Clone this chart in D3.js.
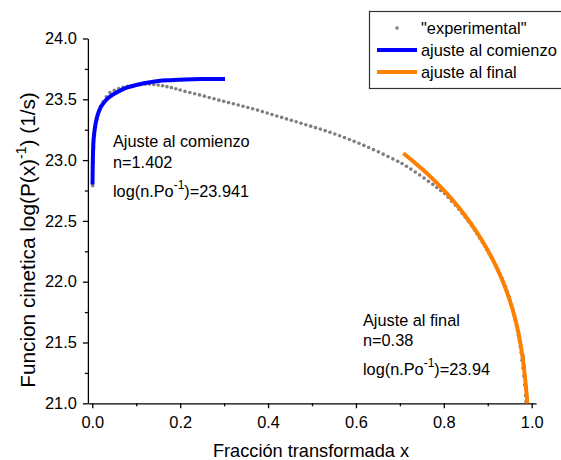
<!DOCTYPE html>
<html>
<head>
<meta charset="utf-8">
<script src="https://cdn.jsdelivr.net/npm/d3@7"></script>
<style>
	body{margin:0;background:#fff;}
	svg text{font-family:"Liberation Sans", Arial, sans-serif;fill:#000;}
</style>
</head>
<body>
<div id="chart"></div>
<script>
// experimental points [x, log(P(x)^-1)]
var expData = [
	[0.001,22.79],[0.002,22.98],[0.003,23.10],[0.005,23.20],[0.007,23.27],[0.010,23.33],
	[0.014,23.39],[0.019,23.44],[0.025,23.48],[0.032,23.52],[0.040,23.555],[0.050,23.575],
	[0.060,23.588],[0.070,23.598],[0.080,23.606],[0.090,23.612],[0.100,23.617],[0.110,23.621],
	[0.120,23.624],[0.130,23.625],[0.140,23.622],[0.150,23.617],[0.160,23.611],[0.170,23.604],
	[0.180,23.596],[0.190,23.587],[0.200,23.576],[0.211,23.565],[0.222,23.556],[0.233,23.546],
	[0.244,23.536],[0.255,23.526],[0.266,23.515],[0.277,23.504],[0.288,23.493],[0.299,23.483],
	[0.310,23.473],[0.321,23.463],[0.332,23.453],[0.343,23.443],[0.354,23.433],[0.365,23.422],
	[0.376,23.411],[0.387,23.399],[0.398,23.387],[0.409,23.375],[0.420,23.363],[0.431,23.351],
	[0.442,23.339],[0.453,23.327],[0.464,23.315],[0.475,23.303],[0.486,23.291],[0.497,23.279],
	[0.508,23.267],[0.519,23.255],[0.530,23.242],[0.541,23.229],[0.552,23.215],[0.563,23.200],
	[0.574,23.185],[0.585,23.170],[0.596,23.154],[0.607,23.138],[0.618,23.121],[0.629,23.104],
	[0.640,23.086],[0.651,23.068],[0.662,23.049],[0.673,23.030],[0.684,23.010],[0.695,22.990],
	[0.705,22.972],[0.715,22.950],[0.725,22.926],[0.735,22.902],[0.745,22.877],[0.755,22.852],
	[0.765,22.826],[0.775,22.800],[0.784,22.775],[0.793,22.750],[0.802,22.725],[0.810,22.695],
	[0.818,22.662],[0.826,22.630],[0.834,22.597],[0.842,22.561],[0.849,22.530],[0.856,22.496],
	[0.863,22.461],[0.870,22.425],[0.876,22.392],[0.882,22.358],[0.888,22.322],[0.893,22.293],
	[0.898,22.262],[0.903,22.232],[0.908,22.200],[0.913,22.166],[0.918,22.133],[0.923,22.098],
	[0.928,22.062],[0.932,22.030],[0.936,21.998],[0.940,21.962],[0.944,21.922],[0.948,21.880],
	[0.951,21.845],[0.954,21.810],[0.957,21.772],[0.960,21.730],[0.963,21.684],[0.966,21.634],
	[0.968,21.598],[0.970,21.560],[0.972,21.515],[0.974,21.468],[0.976,21.415],[0.978,21.355],
	[0.980,21.290],[0.982,21.225],[0.984,21.150],[0.986,21.065],[0.987,21.015]
];

// fit at the beginning (blue)
var fitStart = [
	[0.0005,22.80],[0.001,22.95],[0.0018,23.08],[0.003,23.17],[0.005,23.24],[0.008,23.31],
	[0.013,23.38],[0.020,23.44],[0.028,23.48],[0.036,23.51],[0.050,23.545],[0.074,23.59],
	[0.100,23.618],[0.135,23.643],[0.170,23.656],[0.211,23.663],[0.250,23.666],[0.302,23.666]
];

// fit at the end (orange)
var fitEnd = [
	[0.708,23.056],[0.730,22.990],[0.750,22.928],[0.770,22.862],[0.790,22.790],[0.810,22.712],
	[0.830,22.628],[0.850,22.536],[0.870,22.434],[0.890,22.320],[0.905,22.225],[0.920,22.118],
	[0.935,21.995],[0.945,21.900],[0.955,21.790],[0.963,21.685],[0.970,21.575],[0.976,21.455],
	[0.981,21.330],[0.985,21.200],[0.988,21.090],[0.990,21.000]
];

// short black segment near x=1
var blackSeg = [[0.981,21.41],[0.986,21.22],[0.992,21.00]];

var xTicks = [0, 0.2, 0.4, 0.6, 0.8, 1.0];
var xMinor = [0.1, 0.3, 0.5, 0.7, 0.9];
var yTicks = [21.0, 21.5, 22.0, 22.5, 23.0, 23.5, 24.0];
var yMinor = [21.25, 21.75, 22.25, 22.75, 23.25, 23.75];

var legendItems = ['"experimental"', 'ajuste al comienzo', 'ajuste al final'];

var W = 561, H = 460;
var svg = d3.select('#chart').append('svg')
	.attr('width', W).attr('height', H);

var x = d3.scaleLinear().domain([-0.01, 1.01]).range([87.9, 536.1]);
var y = d3.scaleLinear().domain([21, 24]).range([403.3, 38.5]);

// axes
svg.append('g').attr('transform', 'translate(0,403.3)')
	.call(d3.axisBottom(x).tickValues(xTicks).tickSize(5).tickSizeOuter(0)
		.tickPadding(8).tickFormat(d3.format('.1f')));
svg.append('g').attr('transform', 'translate(0,403.3)')
	.call(d3.axisBottom(x).tickValues(xMinor).tickSize(3).tickSizeOuter(0).tickFormat(''))
	.select('.domain').remove();

svg.append('g').attr('transform', 'translate(87.9,0)')
	.call(d3.axisLeft(y).tickValues(yTicks).tickSize(5).tickSizeOuter(0)
		.tickPadding(6).tickFormat(d3.format('.1f')));
svg.append('g').attr('transform', 'translate(87.9,0)')
	.call(d3.axisLeft(y).tickValues(yMinor).tickSize(3).tickSizeOuter(0).tickFormat(''))
	.select('.domain').remove();

svg.selectAll('.tick text').style('font-size', '16.4px').style('font-family', '"Liberation Sans", Arial, sans-serif');
svg.selectAll('.domain, .tick line').attr('stroke', '#000').attr('stroke-width', 1.3);

// axis titles
svg.append('text')
	.attr('x', 311).attr('y', 457)
	.attr('text-anchor', 'middle')
	.style('font-size', '18.2px')
	.text('Fracción transformada x');

var ylab = svg.append('text')
	.attr('transform', 'translate(35,240) rotate(-90)')
	.attr('text-anchor', 'middle')
	.style('font-size', '20.8px');
ylab.append('tspan').text('Funcion cinetica log(P(x)');
ylab.append('tspan').attr('dy', -9).style('font-size', '14px').text('-1');
ylab.append('tspan').attr('dy', 9).text(') (1/s)');

// data
var line = d3.line().x(function(d){return x(d[0]);}).y(function(d){return y(d[1]);}).curve(d3.curveMonotoneX);

svg.append('g').selectAll('circle')
	.data(expData).enter().append('circle')
	.attr('cx', function(d){return x(d[0]);})
	.attr('cy', function(d){return y(d[1]);})
	.attr('r', 1.8)
	.attr('fill', '#7f7f7f');

svg.append('path').datum(blackSeg)
	.attr('d', d3.line().x(function(d){return x(d[0]);}).y(function(d){return y(d[1]);}))
	.attr('fill', 'none').attr('stroke', '#000').attr('stroke-width', 1.5);

svg.append('path').datum(fitStart)
	.attr('d', d3.line().x(function(d){return x(d[0]);}).y(function(d){return y(d[1]);}).curve(d3.curveCatmullRom))
	.attr('fill', 'none').attr('stroke', '#0000ff').attr('stroke-width', 4);

svg.append('path').datum(fitEnd)
	.attr('d', line)
	.attr('fill', 'none').attr('stroke', '#ff8000').attr('stroke-width', 4);

// annotations
function annot(x0, ys, title, n, val){
	var g = svg.append('g').style('font-size', '16.3px');
	g.append('text').attr('x', x0).attr('y', ys[0]).text(title);
	g.append('text').attr('x', x0).attr('y', ys[1]).text(n);
	var t = g.append('text').attr('x', x0).attr('y', ys[2]);
	t.append('tspan').text('log(n.Po');
	t.append('tspan').attr('dy', -8).style('font-size', '12px').text('-1');
	t.append('tspan').attr('dy', 8).text(')=' + val);
}
annot(113, [147, 168, 197], 'Ajuste al comienzo', 'n=1.402', '23.941');
annot(363, [326, 346, 375], 'Ajuste al final', 'n=0.38', '23.94');

// legend
var leg = svg.append('g');
leg.append('rect').attr('x', 369.5).attr('y', 11.5).attr('width', 220).attr('height', 77)
	.attr('fill', '#fff').attr('stroke', '#333').attr('stroke-width', 1.2);
leg.append('circle').attr('cx', 397).attr('cy', 28).attr('r', 1.8).attr('fill', '#7f7f7f');
leg.append('line').attr('x1', 377).attr('x2', 417).attr('y1', 50).attr('y2', 50)
	.attr('stroke', '#0000ff').attr('stroke-width', 4);
leg.append('line').attr('x1', 377).attr('x2', 417).attr('y1', 72).attr('y2', 72)
	.attr('stroke', '#ff8000').attr('stroke-width', 4);
leg.selectAll('text.lg').data(legendItems).enter().append('text')
	.attr('class', 'lg')
	.attr('x', 421)
	.attr('y', function(d, i){return 34 + i*22;})
	.style('font-size', '16.4px')
	.text(function(d){return d;});
</script>
</body>
</html>
